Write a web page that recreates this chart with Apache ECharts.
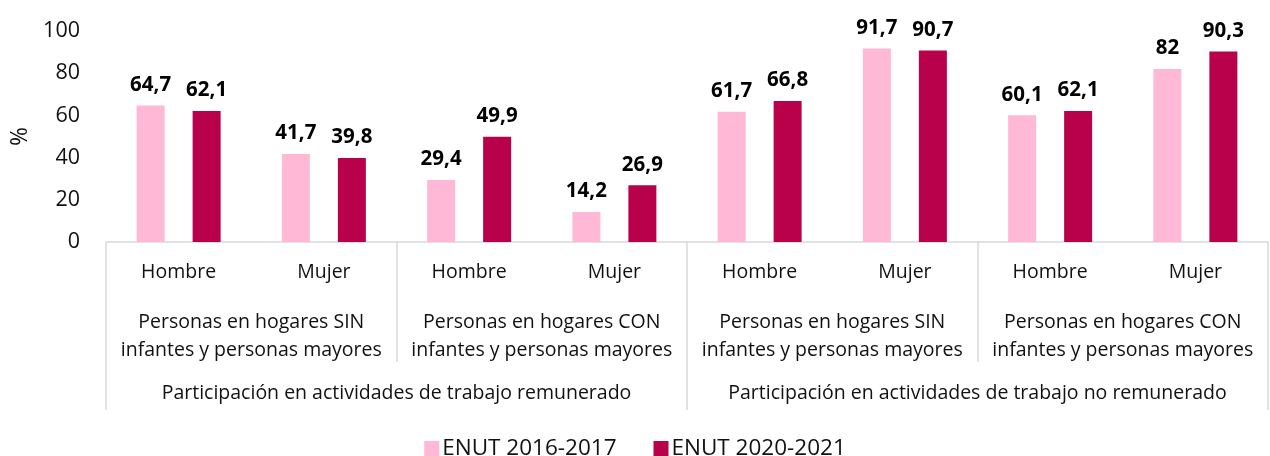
<!DOCTYPE html>
<html>
<head>
<meta charset="utf-8">
<script src="https://cdn.jsdelivr.net/npm/echarts@6/dist/echarts.min.js"></script>
<style>
html,body{margin:0;padding:0;background:#fff;}
#chart{width:1270px;height:456px;}
</style>
</head>
<body>
<div id="chart"></div>
<script>
const categories = ["Hombre","Mujer","Hombre","Mujer","Hombre","Mujer","Hombre","Mujer"];
const groupLabels = [
  "Personas en hogares SIN\ninfantes y personas mayores",
  "Personas en hogares CON\ninfantes y personas mayores",
  "Personas en hogares SIN\ninfantes y personas mayores",
  "Personas en hogares CON\ninfantes y personas mayores"
];
const topLabels = [
  "Participación en actividades de trabajo remunerado",
  "Participación en actividades de trabajo no remunerado"
];
const seriesNames = ["ENUT 2016-2017","ENUT 2020-2021"];
const enut2016 = [64.7, 41.7, 29.4, 14.2, 61.7, 91.7, 60.1, 82];
const enut2020 = [62.1, 39.8, 49.9, 26.9, 66.8, 90.7, 62.1, 90.3];
const yTicks = [0, 20, 40, 60, 80, 100];

const FONT = '"Open Sans", "Noto Sans", sans-serif';
const TXT = '#111111';
const SEP = '#d9d9d9';

const chart = echarts.init(document.getElementById('chart'));
const fmt = v => String(v.value).replace('.', ',');
chart.setOption({
  animation: false,
  textStyle: { fontFamily: FONT },
  grid: { left: 106, right: 2, top: 31, bottom: 214, containLabel: false, outerBoundsMode: 'none' },
  legend: {
    data: seriesNames,
    left: 'center',
    top: 432,
    itemWidth: 15,
    itemHeight: 15,
    itemGap: 37,
    icon: 'rect',
    textStyle: { fontFamily: FONT, fontSize: 22.5, color: TXT, padding: [0,0,0,-2] }
  },
  xAxis: [
    {
      type: 'category',
      data: categories,
      position: 'bottom',
      axisLine: { show: true, lineStyle: { color: SEP, width: 1.5 } },
      axisTick: { show: false },
      axisLabel: { fontFamily: FONT, fontSize: 19.5, color: TXT, margin: 20, interval: 0 }
    },
    {
      type: 'category',
      data: groupLabels,
      position: 'bottom',
      axisLine: { show: false },
      axisTick: { show: true, length: 120, lineStyle: { color: SEP, width: 1.5 } },
      axisLabel: { fontFamily: FONT, fontSize: 19.5, color: TXT, margin: 66, lineHeight: 28, interval: 0, align: 'center' }
    },
    {
      type: 'category',
      data: topLabels,
      position: 'bottom',
      axisLine: { show: false },
      axisTick: { show: true, length: 168, lineStyle: { color: SEP, width: 1.5 } },
      axisLabel: { fontFamily: FONT, fontSize: 19.5, color: TXT, margin: 141, interval: 0 }
    }
  ],
  yAxis: {
    type: 'value',
    min: yTicks[0],
    max: yTicks[yTicks.length - 1],
    interval: 20,
    name: '%',
    nameLocation: 'middle',
    nameRotate: 90,
    nameGap: 72,
    nameTextStyle: { fontFamily: FONT, fontSize: 23, color: TXT },
    axisLine: { show: false },
    axisTick: { show: false },
    splitLine: { show: false },
    axisLabel: { fontFamily: FONT, fontSize: 21.5, color: TXT, margin: 26 }
  },
  series: [
    {
      name: seriesNames[0],
      type: 'bar',
      data: enut2016,
      barWidth: 28,
      barGap: '100%',
      itemStyle: { color: '#FFB8D6' },
      label: { show: true, position: 'top', distance: 10, formatter: fmt, fontFamily: FONT, fontSize: 20.5, fontWeight: 'bold', color: '#000' }
    },
    {
      name: seriesNames[1],
      type: 'bar',
      data: enut2020,
      barWidth: 28,
      barGap: '100%',
      itemStyle: { color: '#B8004B' },
      label: { show: true, position: 'top', distance: 10, formatter: fmt, fontFamily: FONT, fontSize: 20.5, fontWeight: 'bold', color: '#000' }
    }
  ]
});
</script>
</body>
</html>
